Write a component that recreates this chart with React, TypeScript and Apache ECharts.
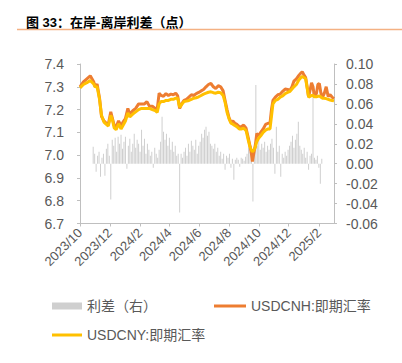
import React, { useEffect, useRef } from 'react';
import * as echarts from 'echarts';

const FONT = 'Arial, "Liberation Sans", "Noto Sans CJK SC", sans-serif';
const TITLE = '图 33：在岸-离岸利差（点）';
const SPREAD_NAME = '利差（右）';
const CNH_NAME = 'USDCNH:即期汇率';
const CNY_NAME = 'USDCNY:即期汇率';

// calendar range of the category axis
const AXIS_START = [2023, 10, 1];
const AXIS_END = [2025, 3, 4];
const tickMonths = [10, 12, 2, 4, 6, 8];

const lineDates = [
  '2023-10-01', '2023-10-08', '2023-10-15', '2023-10-22', '2023-10-29', '2023-11-01', '2023-11-05', '2023-11-10',
  '2023-11-14', '2023-11-19', '2023-11-24', '2023-11-28', '2023-12-03', '2023-12-06', '2023-12-10', '2023-12-14',
  '2023-12-19', '2023-12-24', '2023-12-28', '2024-01-02', '2024-01-07', '2024-01-11', '2024-01-17', '2024-01-23',
  '2024-01-29', '2024-02-04', '2024-02-10', '2024-02-15', '2024-02-20', '2024-02-26', '2024-03-03', '2024-03-07',
  '2024-03-11', '2024-03-15', '2024-03-20', '2024-03-25', '2024-03-30', '2024-04-04', '2024-04-09', '2024-04-14',
  '2024-04-18', '2024-04-22', '2024-04-26', '2024-05-01', '2024-05-06', '2024-05-11', '2024-05-16', '2024-05-21',
  '2024-05-26', '2024-05-31', '2024-06-05', '2024-06-10', '2024-06-15', '2024-06-20', '2024-06-25', '2024-06-30',
  '2024-07-05', '2024-07-10', '2024-07-15', '2024-07-20', '2024-07-24', '2024-07-28', '2024-08-01', '2024-08-05',
  '2024-08-09', '2024-08-13', '2024-08-17', '2024-08-22', '2024-08-26', '2024-08-31', '2024-09-05', '2024-09-09',
  '2024-09-13', '2024-09-16', '2024-09-18', '2024-09-21', '2024-09-24', '2024-09-27', '2024-10-01', '2024-10-05',
  '2024-10-10', '2024-10-15', '2024-10-20', '2024-10-24', '2024-10-27', '2024-10-30', '2024-11-04', '2024-11-09',
  '2024-11-14', '2024-11-19', '2024-11-24', '2024-11-29', '2024-12-04', '2024-12-08', '2024-12-12', '2024-12-17',
  '2024-12-22', '2024-12-26', '2024-12-29', '2025-01-02', '2025-01-05', '2025-01-08', '2025-01-11', '2025-01-14',
  '2025-01-17', '2025-01-20', '2025-01-23', '2025-01-27', '2025-01-30', '2025-02-02', '2025-02-05', '2025-02-08',
  '2025-02-12', '2025-02-16', '2025-02-20', '2025-02-24', '2025-02-28', '2025-03-04',
];

const cnhValues = [
  7.300, 7.322, 7.335, 7.348, 7.322, 7.300, 7.312, 7.250,
  7.170, 7.150, 7.140, 7.135, 7.190, 7.165, 7.130, 7.125,
  7.150, 7.128, 7.145, 7.160, 7.205, 7.180, 7.195, 7.205,
  7.225, 7.225, 7.225, 7.235, 7.215, 7.215, 7.205, 7.200,
  7.272, 7.262, 7.258, 7.270, 7.262, 7.268, 7.265, 7.272,
  7.260, 7.205, 7.225, 7.240, 7.245, 7.255, 7.265, 7.262,
  7.270, 7.275, 7.282, 7.288, 7.300, 7.310, 7.315, 7.300,
  7.292, 7.305, 7.300, 7.282, 7.240, 7.200, 7.165, 7.145,
  7.150, 7.140, 7.135, 7.125, 7.125, 7.132, 7.118, 7.080,
  7.040, 7.005, 6.972, 7.010, 7.045, 7.095, 7.085, 7.100,
  7.115, 7.135, 7.140, 7.140, 7.200, 7.240, 7.255, 7.265,
  7.268, 7.280, 7.290, 7.288, 7.285, 7.300, 7.325, 7.335,
  7.350, 7.360, 7.366, 7.350, 7.340, 7.300, 7.255, 7.285,
  7.318, 7.300, 7.255, 7.270, 7.310, 7.315, 7.275, 7.252,
  7.270, 7.300, 7.258, 7.265, 7.255, 7.248,
];

const cnyValues = [
  7.295, 7.310, 7.318, 7.328, 7.312, 7.300, 7.300, 7.245,
  7.175, 7.145, 7.135, 7.128, 7.175, 7.158, 7.120, 7.112,
  7.138, 7.115, 7.130, 7.150, 7.185, 7.168, 7.180, 7.190,
  7.200, 7.205, 7.205, 7.205, 7.205, 7.200, 7.195, 7.188,
  7.225, 7.235, 7.235, 7.240, 7.240, 7.245, 7.245, 7.250,
  7.250, 7.210, 7.222, 7.235, 7.237, 7.240, 7.245, 7.250,
  7.252, 7.256, 7.262, 7.268, 7.272, 7.276, 7.278, 7.274,
  7.272, 7.276, 7.274, 7.262, 7.232, 7.188, 7.160, 7.140,
  7.136, 7.130, 7.125, 7.115, 7.115, 7.118, 7.108, 7.070,
  7.035, 7.022, 7.015, 7.022, 7.035, 7.060, 7.075, 7.085,
  7.100, 7.110, 7.115, 7.115, 7.170, 7.225, 7.240, 7.245,
  7.255, 7.260, 7.270, 7.275, 7.280, 7.290, 7.300, 7.310,
  7.330, 7.340, 7.345, 7.340, 7.335, 7.295, 7.255, 7.258,
  7.262, 7.262, 7.256, 7.256, 7.258, 7.260, 7.255, 7.250,
  7.250, 7.248, 7.245, 7.242, 7.240, 7.238,
];

// spread observations: one every third calendar day starting 2023-10-28
const SPREAD_START = [2023, 10, 28];
const SPREAD_STEP_DAYS = 3;
const spreadValues = [
  0.017, 0.010, -0.008, 0.008, 0.012, -0.013, 0.006, 0.010, -0.012, 0.015,
  0.020, 0.008, -0.036, 0.024, 0.018, 0.026, 0.012, 0.027, 0.020, 0.029,
  0.015, 0.022, 0.027, -0.005, 0.018, 0.025, 0.012, 0.020, 0.030, 0.016,
  0.024, 0.020, 0.012, 0.034, 0.018, 0.025, 0.010, 0.020, 0.014, 0.008,
  0.012, -0.004, 0.016, 0.010, 0.006, 0.014, 0.022, 0.047, 0.032, 0.024,
  0.030, 0.018, 0.026, 0.014, 0.022, 0.012, 0.018, 0.008, 0.010, -0.049,
  0.010, 0.006, 0.012, 0.016, 0.008, 0.020, 0.012, 0.023, 0.018, 0.014,
  0.024, 0.010, 0.018, 0.022, 0.030, 0.026, 0.034, 0.037, 0.028, 0.032,
  0.020, 0.018, 0.015, 0.020, 0.012, 0.016, 0.008, 0.012, 0.005, 0.010,
  -0.006, 0.008, 0.006, 0.010, -0.004, 0.005, -0.016, 0.004, 0.006, 0.004,
  -0.003, 0.006, 0.005, 0.003, 0.007, 0.010, 0.016, 0.012, 0.018, -0.038,
  0.008, 0.079, 0.018, 0.024, 0.014, 0.020, 0.016, 0.022, 0.012, 0.018,
  0.014, 0.020, 0.025, 0.016, -0.010, 0.037, 0.012, 0.018, -0.013, 0.010,
  0.006, 0.012, 0.008, 0.014, 0.018, 0.022, 0.028, 0.016, 0.024, 0.030,
  0.042, 0.018, 0.014, 0.010, 0.016, 0.006, 0.012, -0.006, 0.008, 0.010,
  0.072, 0.006, 0.004, 0.008, -0.004, -0.020, 0.005,
];

const DAY = 86400000;
const fmt = (t: number) => {
  const d = new Date(t);
  const m = d.getUTCMonth() + 1;
  const dd = d.getUTCDate();
  return `${d.getUTCFullYear()}-${m < 10 ? '0' : ''}${m}-${dd < 10 ? '0' : ''}${dd}`;
};
const utc = (a: number[]) => Date.UTC(a[0], a[1] - 1, a[2]);

const categories: string[] = [];
for (let t = utc(AXIS_START); t <= utc(AXIS_END); t += DAY) categories.push(fmt(t));

const spreadDates = spreadValues.map((_, i) => fmt(utc(SPREAD_START) + i * SPREAD_STEP_DAYS * DAY));

const toSeries = (dates: string[], vals: number[]) => {
  const m = new Map<string, number>();
  dates.forEach((d, i) => m.set(d, vals[i]));
  return categories.map((c) => (m.has(c) ? m.get(c)! : null));
};

const isTick = (c: string) => {
  const p = c.split('-').map(Number);
  return p[2] === 1 && tickMonths.includes(p[1]);
};

const AXIS_COLOR = '#bfbfbf';
const TEXT_COLOR = '#595959';

export default function App() {
  const ref = useRef<HTMLDivElement>(null);
  useEffect(() => {
    const chart = echarts.init(ref.current!, null, { renderer: 'svg' });
    const legendText = { fontSize: 14, color: TEXT_COLOR, fontFamily: FONT, lineHeight: 16 };
    const option: any = {
      animation: false,
      backgroundColor: '#ffffff',
      textStyle: { fontFamily: FONT },
      title: {
        text: TITLE,
        left: 26,
        top: 15,
        padding: 0,
        textStyle: { fontSize: 13, fontWeight: 'bold', color: '#000000', fontFamily: FONT, lineHeight: 14 },
      },
      graphic: [
        {
          type: 'line',
          shape: { x1: 17, y1: 29.5, x2: 402, y2: 29.5 },
          style: { stroke: '#f4b183', lineWidth: 1.5 },
        },
      ],
      legend: [
        {
          data: [{ name: SPREAD_NAME, icon: 'rect' }],
          left: 52, top: 298, padding: 0, itemWidth: 30, itemHeight: 7, itemGap: 0,
          itemStyle: { borderWidth: 0 },
          textStyle: legendText,
        },
        {
          data: [{ name: CNH_NAME, icon: 'rect' }],
          left: 214, top: 298, padding: 0, itemWidth: 32, itemHeight: 3, itemGap: 0,
          itemStyle: { color: '#ed7d31', borderWidth: 0 },
          lineStyle: { width: 0 },
          textStyle: legendText,
        },
        {
          data: [{ name: CNY_NAME, icon: 'rect' }],
          left: 52, top: 327, padding: 0, itemWidth: 30, itemHeight: 3, itemGap: 0,
          itemStyle: { color: '#ffc000', borderWidth: 0 },
          lineStyle: { width: 0 },
          textStyle: legendText,
        },
      ],
      grid: { left: 80, right: 68, top: 64, bottom: 139.5, containLabel: false },
      xAxis: {
        type: 'category',
        data: categories,
        boundaryGap: false,
        axisLine: { onZero: false, lineStyle: { color: AXIS_COLOR, width: 1 } },
        axisTick: {
          show: true, length: 3, interval: (_i: number, v: string) => isTick(v),
          lineStyle: { color: AXIS_COLOR },
        },
        axisLabel: {
          interval: (_i: number, v: string) => isTick(v),
          rotate: 45,
          margin: 7,
          fontSize: 13,
          color: TEXT_COLOR,
          fontFamily: FONT,
          formatter: (v: string) => {
            const p = v.split('-');
            return `${p[0]}/${Number(p[1])}`;
          },
        },
        splitLine: { show: false },
      },
      yAxis: [
        {
          type: 'value',
          min: 6.7,
          max: 7.4,
          interval: 0.1,
          position: 'left',
          axisLine: { show: true, lineStyle: { color: AXIS_COLOR } },
          axisTick: { show: true, length: 3, lineStyle: { color: AXIS_COLOR } },
          axisLabel: {
            fontSize: 14, color: TEXT_COLOR, fontFamily: FONT, margin: 16,
            formatter: (v: number) => v.toFixed(1),
          },
          splitLine: { show: false },
        },
        {
          type: 'value',
          min: -0.06,
          max: 0.1,
          interval: 0.02,
          position: 'right',
          axisLine: { show: true, lineStyle: { color: AXIS_COLOR } },
          axisTick: { show: true, length: 3, lineStyle: { color: AXIS_COLOR } },
          axisLabel: {
            fontSize: 14, color: TEXT_COLOR, fontFamily: FONT, margin: 12,
            formatter: (v: number) => (Math.abs(v) < 1e-9 ? '0.00' : v.toFixed(2)),
          },
          splitLine: { show: false },
        },
      ],
      series: [
        {
          name: SPREAD_NAME,
          type: 'bar',
          yAxisIndex: 1,
          barWidth: 1,
          itemStyle: { color: '#cfcfcf' },
          data: toSeries(spreadDates, spreadValues).map((v) => (v === null ? '-' : v)),
        },
        {
          name: CNH_NAME,
          type: 'line',
          yAxisIndex: 0,
          symbol: 'none',
          connectNulls: true,
          lineStyle: { color: '#ed7d31', width: 3 },
          itemStyle: { color: '#ed7d31' },
          data: toSeries(lineDates, cnhValues),
        },
        {
          name: CNY_NAME,
          type: 'line',
          yAxisIndex: 0,
          symbol: 'none',
          connectNulls: true,
          lineStyle: { color: '#ffc000', width: 3 },
          itemStyle: { color: '#ffc000' },
          data: toSeries(lineDates, cnyValues),
        },
      ],
    };
    chart.setOption(option);
    return () => chart.dispose();
  }, []);
  return (
    <div
      ref={ref}
      style={{ position: 'fixed', left: 0, top: 0, width: 402, height: 363, background: '#ffffff' }}
    />
  );
}
